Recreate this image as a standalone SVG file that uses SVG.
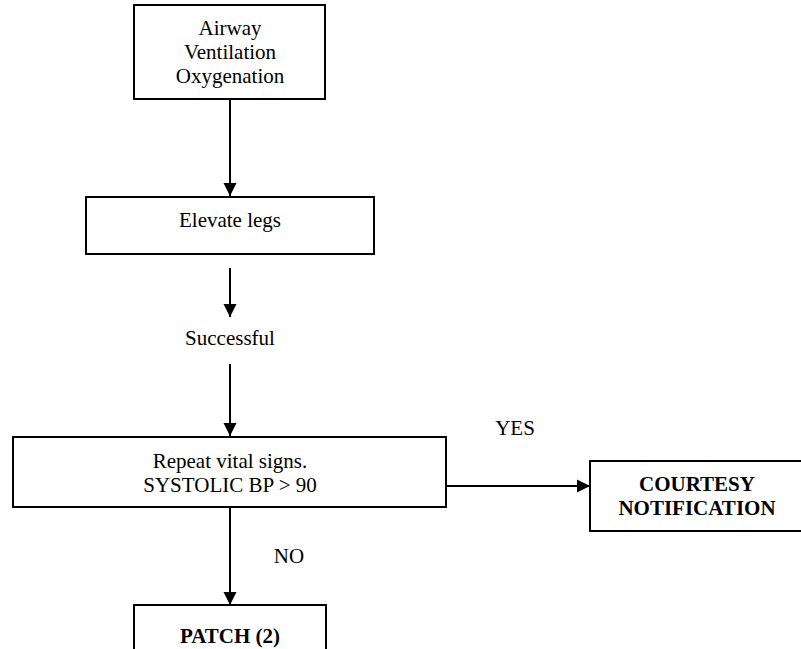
<svg xmlns="http://www.w3.org/2000/svg" width="801" height="649" viewBox="0 0 801 649">
  <defs>
    <style>
      .box { fill: #ffffff; stroke: #000000; stroke-width: 2; }
      .lbl { font-family: "Liberation Serif", "Times New Roman", serif; font-size: 21px; fill: #000000; text-anchor: middle; }
      .b { font-weight: bold; }
      .edge { stroke: #000000; stroke-width: 2; fill: none; marker-end: url(#arrow); }
    </style>
    <marker id="arrow" markerUnits="userSpaceOnUse" markerWidth="14" markerHeight="14" viewBox="0 0 14 14" refX="13" refY="7" orient="auto">
      <path d="M0,0.5 L13,7 L0,13.5 Z" fill="#000000"/>
    </marker>
  </defs>
  <rect width="801" height="649" fill="#ffffff"/>

  <g id="connectors">
    <line class="edge" x1="230" y1="99" x2="230" y2="196"/>
    <line class="edge" x1="230" y1="268" x2="230" y2="317"/>
    <line class="edge" x1="230" y1="364" x2="230" y2="436"/>
    <line class="edge" x1="446" y1="486" x2="590" y2="486"/>
    <line class="edge" x1="230" y1="507" x2="230" y2="605"/>
  </g>

  <g id="airway">
    <rect class="box" x="134" y="5" width="191" height="94"/>
    <text class="lbl" x="230" y="35">Airway</text>
    <text class="lbl" x="230" y="59">Ventilation</text>
    <text class="lbl" x="230" y="83">Oxygenation</text>
  </g>

  <g id="elevate">
    <rect class="box" x="86" y="197" width="288" height="57"/>
    <text class="lbl" x="230" y="227">Elevate legs</text>
  </g>

  <g id="successful">
    <text class="lbl" x="230" y="345">Successful</text>
  </g>

  <g id="repeat">
    <rect class="box" x="13" y="437" width="433" height="70"/>
    <text class="lbl" x="230" y="468">Repeat vital signs.</text>
    <text class="lbl" x="230" y="492">SYSTOLIC BP &gt; 90</text>
  </g>

  <g id="yes-label">
    <text class="lbl" x="515" y="435">YES</text>
  </g>

  <g id="courtesy">
    <rect class="box" x="590" y="461" width="220" height="70"/>
    <text class="lbl b" x="697" y="491">COURTESY</text>
    <text class="lbl b" x="697" y="515">NOTIFICATION</text>
  </g>

  <g id="no-label">
    <text class="lbl" x="289" y="563">NO</text>
  </g>

  <g id="patch">
    <rect class="box" x="134" y="605" width="192" height="60"/>
    <text class="lbl b" x="230" y="643">PATCH (2)</text>
  </g>
</svg>
